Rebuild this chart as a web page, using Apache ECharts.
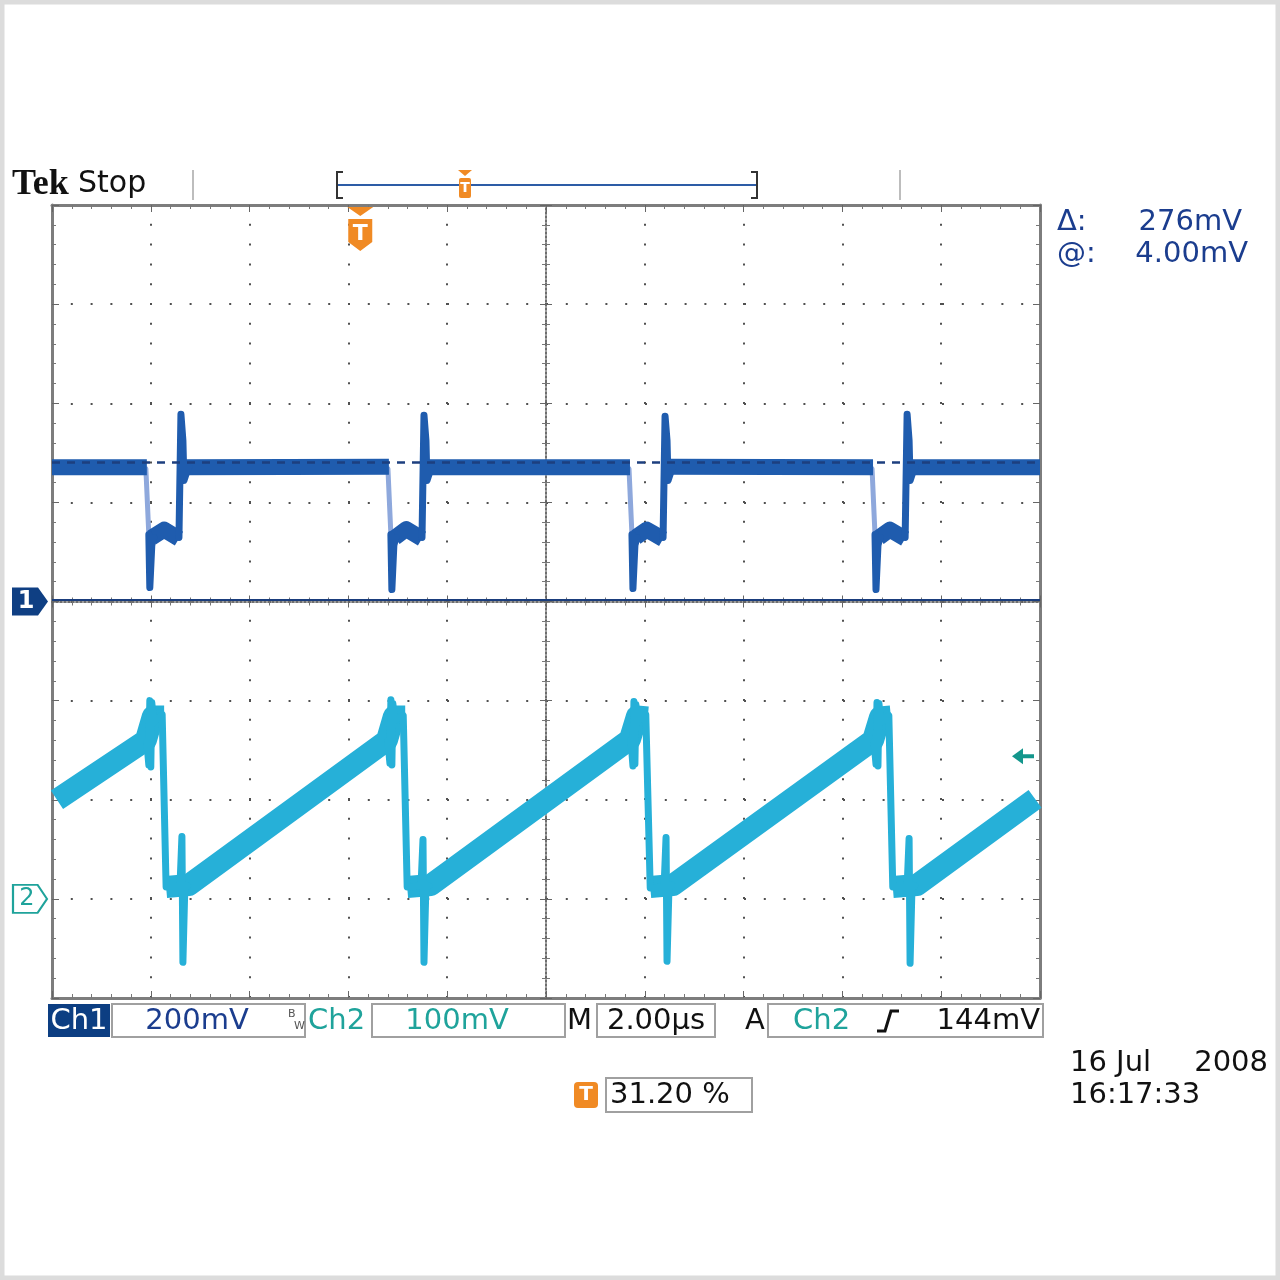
<!DOCTYPE html>
<html><head><meta charset="utf-8">
<script src="https://cdn.jsdelivr.net/npm/echarts/dist/echarts.min.js"></script>
<style>html,body{margin:0;padding:0;background:#fff}#c{width:1280px;height:1280px}</style>
</head><body><div id="c"></div>
<script>
// ---- time axis (µs, relative to screen centre), 2 µs/div ----
const timeMin = -10, timeMax = 10, timeStep = 2;
// Ch1: 200 mV/div, ground at centre; Ch2: 100 mV/div, ground 3 div below centre
const ch1Min = -800, ch1Max = 800, ch1Step = 200;
const ch2Min = -100, ch2Max = 700, ch2Step = 100;
const triggerTime = -3.76;      // 31.20 % of record
const triggerLevel = 144;       // mV on Ch2
const cursorLevels = [280, 4];  // mV on Ch1 (Δ 276 mV, @ 4.00 mV)

// Ch1 trace: baseline + plateaus (thick band)
const ch1MainTime = [-10,-8.08,null,-7.98,-7.73,-7.43,null,-7.31,-3.18,null,-3.06,-2.83,-2.51,null,-2.39,1.70,null,1.82,2.04,2.37,null,2.49,6.62,null,6.74,6.96,7.27,null,7.39,10];
const ch1MainMv   = [271,271,null,129,145,127,null,271,272,null,129,146,127,null,271,271,null,130,145,126,null,272,271,null,129,145,127,null,271,271];
// Ch1 fast falling edges (faint)
const ch1FallTime = [-8.10,-8.04,null,-3.20,-3.14,null,1.68,1.74,null,6.60,6.66];
const ch1FallMv   = [268,135,null,268,135,null,268,135,null,268,135];
// Ch1 dips and rising spikes
const ch1EdgeTime = [-8.04,-8.02,-7.98,-7.94,null,-7.43,-7.39,-7.35,-7.33,-7.27,-7.23,null,
                     -3.14,-3.12,-3.08,-3.04,null,-2.51,-2.47,-2.43,-2.41,-2.35,-2.31,null,
                     1.74,1.76,1.80,1.84,null,2.37,2.41,2.45,2.47,2.53,2.57,null,
                     6.66,6.68,6.72,6.76,null,7.27,7.31,7.35,7.37,7.43,7.47];
const ch1EdgeMv   = [135,28,113,129,null,129,378,325,244,262,271,null,
                     135,24,113,129,null,129,376,325,244,262,271,null,
                     135,26,113,129,null,129,374,325,244,262,271,null,
                     135,24,113,129,null,129,378,325,244,262,271];

// Ch2 trace: ramps (thick band)
const ch2RampTime = [-9.9,-8.10,-7.96,-7.73,null,-7.69,-7.23,-3.22,-3.08,-2.85,null,-2.81,-2.33,1.70,1.84,2.06,null,2.11,2.57,6.62,6.76,6.98,null,7.02,7.51,9.9];
const ch2RampMv   = [100,160,184,184,null,12,14,160,184,184,null,12,14,161,184,183,null,12,14,160,183,184,null,12,14,101];
// Ch2 switching bursts, resets and spikes (thin)
const ch2EdgeTime = [-8.08,-8.04,-8.02,-8.00,-7.98,-7.94,-7.77,-7.69,-7.41,-7.37,-7.35,-7.31,-7.25,null,
                     -3.20,-3.16,-3.14,-3.12,-3.10,-3.06,-2.89,-2.81,-2.53,-2.49,-2.47,-2.43,-2.37,null,
                     1.72,1.76,1.78,1.80,1.82,1.86,2.02,2.11,2.39,2.43,2.45,2.49,2.55,null,
                     6.64,6.68,6.70,6.72,6.74,6.78,6.94,7.02,7.31,7.35,7.37,7.41,7.47];
const ch2EdgeMv   = [158,135,200,133,198,178,186,12,12,63,-64,14,13,null,
                     159,137,201,135,197,180,185,12,13,60,-64,14,13,null,
                     160,134,199,136,196,179,186,11,12,62,-63,13,14,null,
                     158,136,198,134,197,178,185,12,12,61,-65,14,13];

function pairs(ts, vs) {
  return ts.map((t, i) => t === null ? [ts[i - 1], '-'] : [t, vs[i]]);
}

const NAVY = '#1b3d8e', TEAL = '#1fa39b', ORANGE = '#f08a24';
const CH1 = '#1f5cae', CH2 = '#26b0d8';
const FONT = '"DejaVu Sans", sans-serif';

const edgeLine = {show: true, onZero: false, lineStyle: {color: '#7d7d7d', width: 3}};
const edgeTick = {show: true, inside: true, length: 7, lineStyle: {color: '#666', width: 1}};
const edgeMinor = {show: true, splitNumber: 5, length: 4, lineStyle: {color: '#777', width: 1}};
const dotted = {show: true, lineStyle: {color: '#505050', width: 2, type: [2, 17.8], dashOffset: 1}};
const crossLine = {show: true, onZero: true, onZeroAxisIndex: 0, lineStyle: {color: '#666', width: 1.5, type: [2, 2]}};

const chart = echarts.init(document.getElementById('c'), null, {renderer: 'canvas'});

function txt(x, y, text, opt) {
  return Object.assign({type: 'text', x: x, y: y, silent: true,
    style: Object.assign({text: text, font: '29px ' + FONT, fill: '#111',
      textAlign: 'left', textVerticalAlign: 'middle'}, opt || {})});
}
function box(x, y, w, h) {
  return {type: 'rect', silent: true, shape: {x: x, y: y, width: w, height: h},
    style: {fill: '#fff', stroke: '#a0a0a0', lineWidth: 2}};
}

const option = {
  animation: false,
  backgroundColor: '#fff',
  grid: {left: 52, right: 240, top: 205, bottom: 282, outerBoundsMode: 'none', show: false},
  xAxis: [
    {type: 'value', min: timeMin, max: timeMax, interval: timeStep, position: 'bottom',
     axisLine: edgeLine, axisTick: edgeTick, minorTick: edgeMinor, axisLabel: {show: false}, splitLine: dotted},
    {type: 'value', min: timeMin, max: timeMax, interval: timeStep, position: 'top',
     axisLine: edgeLine, axisTick: edgeTick, minorTick: edgeMinor, axisLabel: {show: false}, splitLine: {show: false}},
    {type: 'value', min: timeMin, max: timeMax, interval: timeStep, position: 'bottom',
     axisLine: crossLine, axisTick: {show: true, inside: false, length: 6, lineStyle: {color: '#666'}},
     minorTick: {show: true, splitNumber: 5, length: 4, lineStyle: {color: '#777'}}, axisLabel: {show: false}, splitLine: {show: false}},
    {type: 'value', min: timeMin, max: timeMax, interval: timeStep, position: 'bottom',
     axisLine: crossLine, axisTick: {show: true, inside: true, length: 6, lineStyle: {color: '#666'}},
     minorTick: {show: true, splitNumber: 5, length: 4, lineStyle: {color: '#777'}}, axisLabel: {show: false}, splitLine: {show: false}}
  ],
  yAxis: [
    {type: 'value', min: ch1Min, max: ch1Max, interval: ch1Step, position: 'left',
     axisLine: edgeLine, axisTick: edgeTick, minorTick: edgeMinor, axisLabel: {show: false}, splitLine: dotted},
    {type: 'value', min: ch2Min, max: ch2Max, interval: ch2Step, position: 'right',
     axisLine: edgeLine, axisTick: edgeTick, minorTick: edgeMinor, axisLabel: {show: false}, splitLine: {show: false}},
    {type: 'value', min: -4, max: 4, interval: 1, position: 'left',
     axisLine: crossLine, axisTick: {show: true, inside: false, length: 6, lineStyle: {color: '#666'}},
     minorTick: {show: true, splitNumber: 5, length: 4, lineStyle: {color: '#777'}}, axisLabel: {show: false}, splitLine: {show: false}},
    {type: 'value', min: -4, max: 4, interval: 1, position: 'left',
     axisLine: crossLine, axisTick: {show: true, inside: true, length: 6, lineStyle: {color: '#666'}},
     minorTick: {show: true, splitNumber: 5, length: 4, lineStyle: {color: '#777'}}, axisLabel: {show: false}, splitLine: {show: false}}
  ],
  series: [
    {type: 'line', name: 'cursors', xAxisIndex: 0, yAxisIndex: 0, data: [], z: 1, silent: true,
     markLine: {silent: true, symbol: 'none', label: {show: false},
       data: [
         {yAxis: cursorLevels[0], lineStyle: {type: [8, 7], color: '#1d3f7f', width: 2.5}},
         {yAxis: cursorLevels[1], lineStyle: {type: 'solid', color: '#1a3d7c', width: 2}}
       ]}},
    {type: 'line', name: 'Ch1 fall', xAxisIndex: 0, yAxisIndex: 0, data: pairs(ch1FallTime, ch1FallMv),
     showSymbol: false, symbol: 'none', connectNulls: false, z: 3, silent: true,
     lineStyle: {color: '#8ea8dc', width: 5, cap: 'round'}},
    {type: 'line', name: 'Ch1', xAxisIndex: 0, yAxisIndex: 0, data: pairs(ch1MainTime, ch1MainMv),
     showSymbol: false, symbol: 'none', connectNulls: false, z: 4, silent: true,
     lineStyle: {color: CH1, width: 16, join: 'round'},
     markPoint: {silent: true, data: [
       {name: 'ch1mark', coord: [timeMin, 0], symbol: 'path://M0,0L26,0L36,14L26,28L0,28Z',
        symbolSize: [36, 28], symbolOffset: [-22, 0], itemStyle: {color: '#0f3f83'},
        label: {show: true, formatter: '1', color: '#fff', fontSize: 24, fontWeight: 'bold', fontFamily: FONT, offset: [-4, 0]}},
       {name: 'trig', coord: [triggerTime, ch1Max], symbol: 'path://M0,0L26,0L13,9Z M1,12L25,12L25,35L13,44L1,35Z',
        symbolSize: [26, 44], symbolOffset: [0, 24], itemStyle: {color: ORANGE},
        label: {show: true, formatter: 'T', color: '#fff', fontSize: 22, fontWeight: 'bold', fontFamily: FONT, offset: [0, 5]}}
     ]}},
    {type: 'line', name: 'Ch1 edges', xAxisIndex: 0, yAxisIndex: 0, data: pairs(ch1EdgeTime, ch1EdgeMv),
     showSymbol: false, symbol: 'none', connectNulls: false, z: 4, silent: true,
     lineStyle: {color: CH1, width: 7, cap: 'round', join: 'round'}},
    {type: 'line', name: 'Ch2', xAxisIndex: 0, yAxisIndex: 1, data: pairs(ch2RampTime, ch2RampMv),
     showSymbol: false, symbol: 'none', connectNulls: false, z: 3, silent: true,
     lineStyle: {color: CH2, width: 22, join: 'round'},
     markPoint: {silent: true, data: [
       {name: 'ch2mark', coord: [timeMin, 0], symbol: 'path://M0,0L26,0L36,14L26,28L0,28Z',
        symbolSize: [34, 28], symbolOffset: [-22, 0], itemStyle: {color: '#fff', borderColor: TEAL, borderWidth: 2},
        label: {show: true, formatter: '2', color: TEAL, fontSize: 24, fontFamily: FONT, offset: [-3, 0]}},
       {name: 'trigLevel', coord: [timeMax, triggerLevel], symbol: 'path://M0,8L12,0L12,6L24,6L24,10L12,10L12,16Z',
        symbolSize: [22, 16], symbolOffset: [-17, 0], itemStyle: {color: '#13968c'}, label: {show: false}}
     ]}},
    {type: 'line', name: 'Ch2 edges', xAxisIndex: 0, yAxisIndex: 1, data: pairs(ch2EdgeTime, ch2EdgeMv),
     showSymbol: false, symbol: 'none', connectNulls: false, z: 3, silent: true,
     lineStyle: {color: CH2, width: 7, cap: 'round', join: 'round'}}
  ],
  graphic: [
    {type: 'rect', silent: true, shape: {x: 2, y: 2, width: 1276, height: 1276}, style: {fill: 'none', stroke: '#dcdcdc', lineWidth: 5}},
    // header
    txt(12, 185, 'Tek', {font: 'bold 36px "Liberation Serif", serif', fill: '#111'}),
    txt(78, 184, 'Stop', {font: '30px ' + FONT, fill: '#111'}),
    {type: 'line', silent: true, shape: {x1: 193, y1: 170, x2: 193, y2: 200}, style: {stroke: '#bdbdbd', lineWidth: 2}},
    {type: 'line', silent: true, shape: {x1: 900, y1: 170, x2: 900, y2: 200}, style: {stroke: '#bdbdbd', lineWidth: 2}},
    {type: 'line', silent: true, shape: {x1: 337, y1: 185, x2: 757, y2: 185}, style: {stroke: '#2d5ca6', lineWidth: 2}},
    {type: 'polyline', silent: true, shape: {points: [[343, 172], [337, 172], [337, 198], [343, 198]]}, style: {stroke: '#333', lineWidth: 2, fill: 'none'}},
    {type: 'polyline', silent: true, shape: {points: [[751, 172], [757, 172], [757, 198], [751, 198]]}, style: {stroke: '#333', lineWidth: 2, fill: 'none'}},
    {type: 'polygon', silent: true, shape: {points: [[458, 170], [472, 170], [465, 176]]}, style: {fill: ORANGE}},
    {type: 'rect', silent: true, shape: {x: 459, y: 178, width: 12, height: 20, r: 2}, style: {fill: ORANGE}},
    txt(465, 188, 'T', {font: 'bold 14px ' + FONT, fill: '#fff', textAlign: 'center'}),
    // cursor readout
    txt(1057, 222, 'Δ:', {fill: NAVY}),
    txt(1242, 222, '276mV', {fill: NAVY, textAlign: 'right'}),
    txt(1057, 254, '@:', {fill: NAVY}),
    txt(1248, 254, '4.00mV', {fill: NAVY, textAlign: 'right'}),
    // status bar
    {type: 'rect', silent: true, shape: {x: 48, y: 1004, width: 62, height: 33}, style: {fill: '#0c3e82'}},
    txt(79, 1021, 'Ch1', {fill: '#fff', textAlign: 'center'}),
    box(112, 1004, 193, 33),
    txt(197, 1021, '200mV', {fill: NAVY, textAlign: 'center'}),
    txt(288, 1014, 'B', {font: '11px ' + FONT, fill: '#555'}),
    txt(294, 1026, 'W', {font: '11px ' + FONT, fill: '#555'}),
    txt(308, 1021, 'Ch2', {fill: TEAL}),
    box(372, 1004, 193, 33),
    txt(457, 1021, '100mV', {fill: TEAL, textAlign: 'center'}),
    txt(567, 1021, 'M', {fill: '#111'}),
    box(597, 1004, 118, 33),
    txt(656, 1021, '2.00µs', {fill: '#111', textAlign: 'center'}),
    txt(745, 1021, 'A', {fill: '#111'}),
    box(768, 1004, 275, 33),
    txt(793, 1021, 'Ch2', {fill: TEAL}),
    {type: 'polyline', silent: true, shape: {points: [[877, 1031], [885, 1031], [891, 1011], [899, 1011]]}, style: {stroke: '#111', lineWidth: 3, fill: 'none'}},
    txt(1040, 1021, '144mV', {fill: '#111', textAlign: 'right'}),
    {type: 'rect', silent: true, shape: {x: 574, y: 1082, width: 24, height: 26, r: 4}, style: {fill: ORANGE}},
    txt(586, 1095, 'T', {font: 'bold 20px ' + FONT, fill: '#fff', textAlign: 'center'}),
    box(606, 1078, 146, 34),
    txt(610, 1095, '31.20 %', {fill: '#111'}),
    txt(1070, 1063, '16 Jul', {fill: '#111'}),
    txt(1268, 1063, '2008', {fill: '#111', textAlign: 'right'}),
    txt(1070, 1095, '16:17:33', {fill: '#111'})
  ]
};
chart.setOption(option);
</script>
</body></html>
